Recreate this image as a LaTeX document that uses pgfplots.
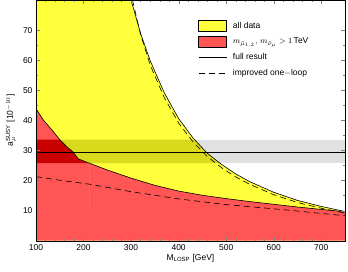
\documentclass[border=0pt]{standalone}
\usepackage{pgfplots}
\pgfplotsset{compat=1.18}
\usepackage{fontspec}
\setmainfont{Liberation Sans}
\definecolor{ycol}{RGB}{255,255,60}
\definecolor{rcol}{RGB}{255,85,85}
\definecolor{dycol}{RGB}{218,218,28}
\definecolor{drcol}{RGB}{200,0,0}
\definecolor{gcol}{RGB}{225,225,225}
\definecolor{vcol}{RGB}{235,120,60}
\begin{document}
\begin{tikzpicture}
\begin{axis}[
  name=ax,
  scale only axis,
  width=309pt, height=240.7pt,
  xmin=100, xmax=750, ymin=0, ymax=80,
  xtick={100,200,...,700},
  ytick={10,20,...,70},
  minor x tick num=4,
  minor y tick num=1,
  tick align=inside,
  major tick length=4pt,
  minor tick length=2pt,
  axis on top,
  /pgf/number format/assume math mode=true,
  tick label style={font=\fontsize{8.5}{10}\selectfont},
  label style={font=\fontsize{8.5}{10}\selectfont},
  xlabel={M$_{\mbox{\fontsize{6}{7}\selectfont LOSP}}$ [GeV]},
  ylabel={a$_{\mu}^{\mbox{\fontsize{6}{7}\selectfont SUSY}}$ [10$^{-10}$]},
  xlabel style={yshift=3pt},
  legend style={at={(0.515,0.926)}, anchor=north west, draw=none, fill=none,
    font=\fontsize{8.5}{10}\selectfont, column sep=4pt, row sep=4.3pt},
  legend cell align=left,
]
% gray band (full width)
\addplot[fill=gcol, draw=none, forget plot] coordinates {
(100,25.8) (750,25.8) (750,33.6) (100,33.6)} -- cycle;
% yellow region (all data)
\addplot[fill=ycol, draw=none, forget plot] coordinates {
(100,0) (100,80) (300,80) (320,68.9) (340,59.9) (370,49.1) (400,40.6) (430,34.2) (460,29.1)
(490,25.4) (520,22.2) (550,19.6) (600,16.1) (650,13.4) (700,11.4) (750,9.7) (750,0)} -- cycle;
% red region
\addplot[fill=rcol, draw=none, forget plot] coordinates {
(100,0) (100,43.9) (115,40.2) (133,36.9) (150,33.6) (165,31.2) (178,29.5) (189,27.2)
(200,26.5) (210,25.9) (250,23.5) (300,20.8) (350,18.4) (400,16.5) (450,15.1) (500,14.0)
(550,13.0) (600,12.1) (650,11.2) (700,10.4) (750,9.6) (750,0)} -- cycle;
% band over red
\addplot[fill=drcol, draw=none, forget plot] coordinates {
(100,25.8) (211.7,25.8) (210,25.9) (200,26.5) (189,27.2) (178,29.5) (165,31.2) (150,33.6) (100,33.6)} -- cycle;
% band over yellow
\addplot[fill=dycol, draw=none, forget plot] coordinates {
(150,33.6) (433.5,33.6) (460,29.1) (486.8,25.8) (211.7,25.8) (210,25.9) (200,26.5) (189,27.2)
(178,29.5) (165,31.2)} -- cycle;
% faint vertical line
\addplot[vcol, line width=0.4pt, forget plot] coordinates {(212,25.6) (212,10.2)};
% central value
\addplot[black, line width=0.6pt, forget plot] coordinates {(100,29.5) (750,29.5)};
% full result curves
\addplot[black, line width=0.6pt, forget plot] coordinates {
(300,80) (320,68.9) (340,59.9) (370,49.1) (400,40.6) (430,34.2) (460,29.1)
(490,25.4) (520,22.2) (550,19.6) (600,16.1) (650,13.4) (700,11.4) (750,9.7)};
\addplot[black, line width=0.6pt, forget plot] coordinates {
(100,43.9) (115,40.2) (133,36.9) (150,33.6) (165,31.2) (178,29.5) (189,27.2)
(200,26.5) (210,25.9) (250,23.5) (300,20.8) (350,18.4) (400,16.5) (450,15.1) (500,14.0)
(550,13.0) (600,12.1) (650,11.2) (700,10.4) (750,9.6)};
% improved one-loop curves
\addplot[black, line width=0.6pt, dash pattern=on 6pt off 4pt, forget plot] coordinates {
(303,80) (320,68.5) (340,58.5) (370,47.5) (400,39.1) (430,32.9) (460,28.0)
(490,24.3) (520,21.2) (550,18.7) (600,15.3) (650,12.7) (700,10.8) (750,9.2)};
\addplot[black, line width=0.6pt, dash pattern=on 6pt off 4pt, forget plot] coordinates {
(100,21.3) (150,20.1) (212,18.8) (300,16.3) (400,13.9) (500,12.0) (628,10.2) (750,8.3)};
% legend
\addlegendimage{legend image code/.code={\draw[fill=ycol,draw=black,line width=0.5pt] (0pt,-5.5pt) rectangle (28pt,5.5pt);}}
\addlegendentry{all data}
\addlegendimage{legend image code/.code={\draw[fill=rcol,draw=black,line width=0.5pt] (0pt,-5.5pt) rectangle (28pt,5.5pt);}}
\addlegendentry{$m_{\tilde{\mu}_{1,2}},\,m_{\tilde{\nu}_{\mu}}>1\,$TeV}
\addlegendimage{legend image code/.code={\draw[black,line width=0.6pt] (0pt,0pt) -- (28pt,0pt);}}
\addlegendentry{full result}
\addlegendimage{legend image code/.code={\draw[black,line width=0.6pt,dash pattern=on 6pt off 4pt] (0pt,0pt) -- (28pt,0pt);}}
\addlegendentry{improved one$-$loop}
\end{axis}
\pgfresetboundingbox
\path (ax.south west) ++(-36pt,-30.3pt) coordinate (bl);
\path (ax.north east) ++(3pt,0pt) coordinate (tr);
\path[use as bounding box] (bl) rectangle (tr);
\end{tikzpicture}
\end{document}
